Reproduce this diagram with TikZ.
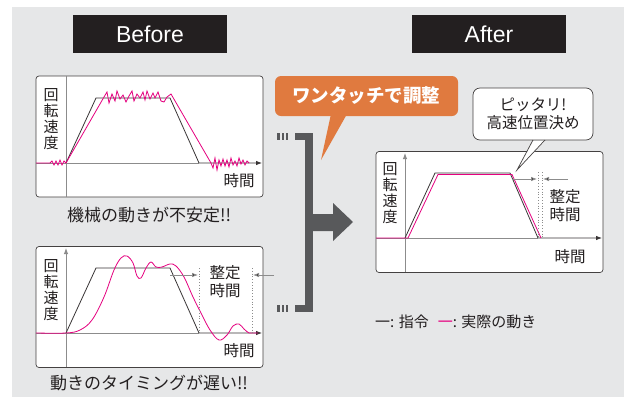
\documentclass[tikz,border=0pt]{standalone}
\usepackage{fontspec}
\setmainfont{Liberation Sans}
\newfontfamily\jp{Noto Sans CJK JP}
\usetikzlibrary{arrows.meta}
\definecolor{panelgray}{HTML}{E6E7E8}
\definecolor{inkblack}{HTML}{231F20}
\definecolor{callorange}{HTML}{E07A3F}
\definecolor{bracketgray}{HTML}{58595B}
\definecolor{actpink}{HTML}{E5007F}
\definecolor{axisgray}{HTML}{8C8C8C}
\begin{document}
\begin{tikzpicture}[x=1pt,y=-1pt,
  titlebox/.style={fill=inkblack, text=white, minimum width=154pt, minimum height=38pt, inner sep=0pt, font=\fontsize{23}{23}\selectfont},
  graphbox/.style={draw=inkblack!85, fill=white, line width=0.7pt, rounded corners=3pt, minimum width=227pt, minimum height=121pt, inner sep=0pt},
  axisline/.style={draw=axisgray, line width=0.9pt},
  cmdline/.style={draw=inkblack!90, line width=0.8pt},
  actline/.style={draw=actpink, line width=0.8pt},
  tip/.style={-{Latex[length=6pt,width=4.5pt]}},
  settle/.style={draw=axisgray, line width=0.8pt, -{Latex[length=6pt,width=4.5pt,fill=inkblack]}},
  dotline/.style={draw=axisgray, line width=0.8pt, dotted},
  ylab/.style={align=center, text=inkblack, font=\jp\fontsize{15}{16}\selectfont, inner sep=0pt},
  jptext/.style={text=inkblack, font=\jp\fontsize{#1}{#1}\selectfont, inner sep=0pt},
  twoline/.style={align=center, text=inkblack, font=\jp\fontsize{15.5}{18}\selectfont, inner sep=0pt},
  brk/.style={fill=bracketgray}
]
\path[use as bounding box] (0,0) rectangle (630,397);
\fill[white] (0,0) rectangle (630,397);
\fill[panelgray] (12,7) rectangle (624,397);

% titles
\node[titlebox] (before) at (150,34) {Before};
\node[titlebox] (after) at (489,34) {After};

% ---------------- graph 1 (unstable)
\node[graphbox] (g1) at (149.5,136.5) {};
\draw[axisline] (66,76) -- (66,197);
\draw[axisline] (36,163) -- (199,163);
\draw[cmdline,tip] (66,163) -- (96,98) -- (170,98) -- (199,163) -- (262,163);
\draw[actline] (36,163) -- (50,163) -- (52,161) -- (54,165) -- (56,161) -- (58,165) -- (60,160) -- (62,165) -- (64,161) -- (66,163)
  -- (104,97) -- (107,92) -- (109,103) -- (112,94) -- (115,101) -- (117,91) -- (120,99) -- (123,95) -- (126,102) -- (129,96)
  -- (132,91) -- (134,101) -- (137,94) -- (140,98) -- (143,92) -- (145,100) -- (147,91) -- (150,99) -- (153,93) -- (155,98)
  -- (158,92) -- (161,101) -- (164,102) -- (167,97) -- (171,94)
  -- (211,163) -- (213,168) -- (215,158) -- (217,170) -- (219,160) -- (221,166) -- (223,159) -- (225,166) -- (227,160)
  -- (229,167) -- (231,158) -- (233,165) -- (235,161) -- (237,166) -- (239,158) -- (241,164) -- (243,160) -- (245,165)
  -- (247,161) -- (249,163);
\node[ylab] (y1) at (51,119) {回\\転\\速\\度};
\node[jptext=15.5] (t1) at (239,181) {時間};
\node[jptext=17] (c1) at (149,215) {機械の動きが不安定!!};

% ---------------- graph 2 (slow)
\node[graphbox] (g2) at (149.5,307) {};
\draw[axisline,tip] (66,367) -- (66,248);
\draw[axisline] (36,333) -- (199,333);
\draw[cmdline,tip] (66,333) -- (96,268) -- (170,268) -- (199,333) -- (262,333);
\draw[actline] plot[smooth, tension=0.6] coordinates {(36,333) (66,333) (80,330) (92,320) (104,297) (114,270) (121,258)
  (127,256) (133,263) (137,276) (141,278) (146,268) (151,262) (156,267) (162,267) (170,264) (176,266) (184,277)
  (193,297) (201,313) (210,330) (219,340) (227,335) (233,326) (239,324) (244,329) (249,333) (253,333) (258,333)};
\coordinate (s1a) at (170,275);
\coordinate (s1b) at (198,275);
\coordinate (s1c) at (274,275);
\coordinate (s1d) at (253,275);
\draw[settle] (s1a) -- (s1b);
\draw[settle] (s1c) -- (s1d);
\draw[dotline] (199,268) -- (199,333);
\draw[dotline] (252,268) -- (252,333);
\node[twoline] (st1) at (225,282) {整定\\時間};
\node[ylab] (y2) at (51,290) {回\\転\\速\\度};
\node[jptext=15.5] (t2) at (239,351) {時間};
\node[jptext=17] (c2) at (149,383) {動きのタイミングが遅い!!};

% ---------------- bracket and arrow
\fill[brk] (277.3,133) rectangle (279.5,140);
\fill[brk] (281.7,133) rectangle (283.9,140);
\fill[brk] (286.1,133) rectangle (288.3,140);
\fill[brk] (295,133) rectangle (313,140);
\fill[brk] (277.3,305) rectangle (279.5,312);
\fill[brk] (281.7,305) rectangle (283.9,312);
\fill[brk] (286.1,305) rectangle (288.3,312);
\fill[brk] (295,305) rectangle (313,312);
\fill[brk] (305,133) rectangle (313,312);
\fill[brk] (312,214) -- (333,214) -- (333,203) -- (353,222) -- (333,241) -- (333,231) -- (312,231) -- cycle;

% ---------------- orange callout
\fill[callorange, rounded corners=6pt] (275,76) rectangle (458,116);
\fill[callorange] (331,114) -- (347,114) -- (321,160) -- cycle;
\node[text=white, font=\jp\bfseries\fontsize{18.5}{18.5}\selectfont, inner sep=0pt] (oc) at (366,96) {ワンタッチで調整};

% ---------------- after graph
\node[graphbox] (g3) at (489.5,212) {};
\draw[axisline,tip] (405,272) -- (405,153);
\draw[axisline] (376,238) -- (538,238);
\draw[cmdline,tip] (405,238) -- (435,173) -- (510,173) -- (538,238) -- (602,238);
\draw[actline] (376,238) -- (408,238) -- (438,174.5) -- (512,174.5) -- (541,238);
\coordinate (s2a) at (512,179);
\coordinate (s2b) at (537,179);
\coordinate (s2c) at (568,179);
\coordinate (s2d) at (543,179);
\draw[settle] (s2a) -- (s2b);
\draw[settle] (s2c) -- (s2d);
\draw[dotline] (538.5,172) -- (538.5,238);
\draw[dotline] (542,172) -- (542,238);
\node[twoline] (st2) at (565,206) {整定\\時間};
\node[ylab] (y3) at (390,193) {回\\転\\速\\度};
\node[jptext=15.5] (t3) at (570,257) {時間};

% ---------------- white bubble
\draw[draw=inkblack!85, fill=white, line width=0.7pt, rounded corners=7pt] (473,88) rectangle (593,140);
\coordinate (tl) at (533,140);
\coordinate (tr) at (545,140);
\coordinate (tt) at (517,170);
\fill[white] ([yshift=-1pt]tl) -- ([yshift=-1pt]tr) -- (tt) -- cycle;
\draw[draw=inkblack!85, line width=0.7pt] (tl) -- (tt) -- (tr);
\node[twoline] (bub) at (533,114) {ピッタリ!\\高速位置決め};

% ---------------- legend
\node[jptext=15, anchor=west] (leg) at (375,322) {一: 指令\hspace{9pt}\textcolor{actpink}{一}: 実際の動き};
\end{tikzpicture}
\end{document}
